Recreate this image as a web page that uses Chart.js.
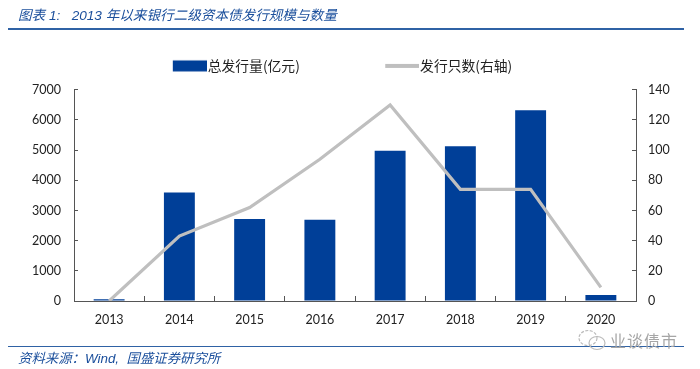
<!DOCTYPE html>
<html>
<head>
<meta charset="utf-8">
<script src="https://cdn.jsdelivr.net/npm/chart.js@4"></script>
<style>
  html, body { margin: 0; padding: 0; background: #fff; }
  #wrap { position: relative; width: 700px; height: 369px; overflow: hidden; }
  #c { position: absolute; left: 0; top: 0; }
  .note { position: absolute; white-space: pre; font-family: "Liberation Sans", "Noto Sans CJK SC", sans-serif; font-style: italic; color: #1b4f9c; }
  .rule { position: absolute; left: 8px; width: 676px; background: #2f62a5; }
  #mark { position: absolute; left: 610px; top: 328px; font: 16px "Noto Sans CJK SC", sans-serif; color: #a6a6a6; letter-spacing: 1px; }
  #icon { position: absolute; left: 577px; top: 329px; }
</style>
</head>
<body>
<div id="wrap">
  <canvas id="c" width="700" height="369"></canvas>
  <div class="note" style="left:18px;top:4px;font-size:13.6px">图表 1:   2013 年以来银行二级资本债发行规模与数量</div>
  <div class="rule" style="top:28px;height:2px"></div>
  <div class="rule" style="top:346px;height:1px"></div>
  <div class="note" style="left:18px;top:347px;font-size:13.4px">资料来源&#xFF1A;Wind,  国盛证券研究所</div>
  <svg id="icon" width="30" height="22" viewBox="0 0 30 22" fill="none" stroke="#bbb" stroke-width="1.2">
    <ellipse cx="11" cy="9" rx="9" ry="7.5" stroke-dasharray="3 1.5"/>
    <ellipse cx="20" cy="14" rx="8" ry="6.5"/>
  </svg>
  <div id="mark">业谈债市</div>
</div>
<script>
const years = ['2013','2014','2015','2016','2017','2018','2019','2020'];
const issueAmount = [60,3600,2720,2690,4980,5130,6320,200];
const issueCount = [0,43,62,94,130,74,74,9];

const txt = '#222';
const axisColor = '#555';
const labelFont = { family: 'Lato, "Noto Sans CJK SC", sans-serif', size: 12.5 };

// legend swatch sits right up against its text, so the box is drawn as a little canvas
function swatch(color, h) {
  const cv = document.createElement('canvas');
  cv.width = 40; cv.height = 14;
  const g = cv.getContext('2d');
  g.fillStyle = color;
  g.fillRect(6, (14 - h) / 2, 34, h);
  return cv;
}

new Chart(document.getElementById('c').getContext('2d'), {
  data: {
    labels: years,
    datasets: [
      { type: 'line', label: '发行只数(右轴)', data: issueCount, yAxisID: 'y1', borderColor: '#bfbfbf', backgroundColor: '#bfbfbf', borderWidth: 3.2, pointRadius: 0, pointStyle: swatch('#bfbfbf', 4), tension: 0, order: 1 },
      { type: 'bar', label: '总发行量(亿元)', data: issueAmount, yAxisID: 'y', backgroundColor: '#003f98', barPercentage: 0.44, categoryPercentage: 1, pointStyle: swatch('#003f98', 11), order: 2 }
    ]
  },
  options: {
    responsive: false,
    animation: false,
    layout: { padding: { top: 15, right: 15, left: 0, bottom: 0 } },
    plugins: {
      tooltip: { enabled: false },
      legend: {
        position: 'top',
        reverse: true,
        labels: {
          usePointStyle: true, pointStyleWidth: 28, boxHeight: 14, padding: 44, color: txt,
          font: { family: '"Noto Sans CJK SC", sans-serif', size: 13.8 },
          generateLabels: chart => Chart.defaults.plugins.legend.labels.generateLabels(chart).map(item => {
            item.pointStyle = chart.data.datasets[item.datasetIndex].pointStyle;
            // wider gap between the two entries than the padding gives
            if (item.datasetIndex === 1) item.text += '\u3000\u3000\u3000';
            return item;
          })
        }
      }
    },
    scales: {
      x: {
        offset: true,
        border: { color: axisColor, width: 1 },
        grid: { offset: true, drawOnChartArea: false, color: axisColor, tickLength: -5 },
        ticks: { color: txt, font: labelFont, padding: 16, maxRotation: 0 },
        afterFit: s => { s.height = 68; }
      },
      y: {
        position: 'left', min: 0, max: 7000,
        border: { color: axisColor, width: 1 },
        grid: { drawOnChartArea: false, color: axisColor, tickLength: -4 },
        ticks: { stepSize: 1000, color: txt, font: labelFont, padding: 17, callback: v => String(v) },
        afterFit: s => { s.width = 74; }
      },
      y1: {
        position: 'right', min: 0, max: 140,
        border: { color: axisColor, width: 1 },
        grid: { drawOnChartArea: false, color: axisColor, tickLength: -4 },
        ticks: { stepSize: 20, color: txt, font: labelFont, padding: 16 },
        afterFit: s => { s.width = 49; }
      }
    }
  },
  plugins: [{
    // keep some air between legend and plot
    id: 'legendGap',
    beforeLayout: chart => {
      const lg = chart.legend;
      const fit = lg.constructor.prototype.fit;
      lg.fit = function () { fit.call(this); this.height += 7; };
    }
  }]
});
</script>
</body>
</html>
